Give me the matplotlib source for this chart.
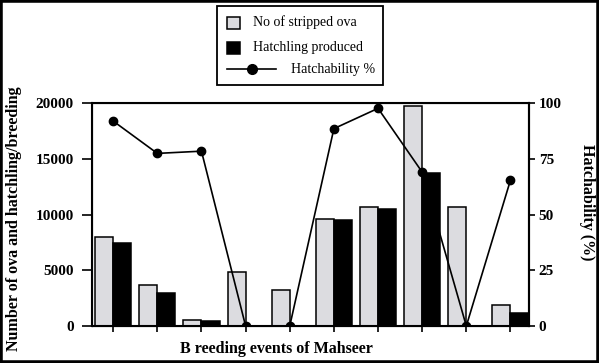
import numpy as np
import matplotlib.pyplot as plt
from matplotlib.lines import Line2D
from matplotlib.patches import Rectangle

plt.rcParams['font.family'] = ['Liberation Serif', 'DejaVu Serif']

events = np.arange(10)
ova = [8000, 3700, 550, 4800, 3200, 9600, 10700, 19760, 10700, 1850]
hatchlings = [7400, 2950, 450, 0, 0, 9500, 10500, 13700, 0, 1150]
hatchability = [91.9, 77.4, 78.4, 0, 0, 88.5, 97.6, 69.0, 0, 65.4]
legend_labels = ['No of stripped ova', 'Hatchling produced', 'Hatchability %']

W, H = 599, 363
fig = plt.figure(figsize=(W / 100, H / 100), dpi=100)
ax = fig.add_axes([92 / W, 37 / H, 437 / W, 223 / H])

grey = '#dcdce0'
w = 0.41
ax.bar(events - w / 2, ova, w, color=grey, edgecolor='black', linewidth=1.1)
ax.bar(events + w / 2, hatchlings, w, color='black', edgecolor='black', linewidth=1.1)
ax.set_ylim(0, 20000)
ax.set_xlim(-0.48, 9.42)
ax.set_xticks(events)
ax.set_xticklabels([])
ax.set_yticks([0, 5000, 10000, 15000, 20000])
ax.tick_params(axis='y', direction='out', length=7, width=1.2, labelsize=11, pad=6)
ax.tick_params(axis='x', direction='out', length=4.5, width=1.2)
for lbl in ax.get_yticklabels():
    lbl.set_fontweight('bold')
for s in ax.spines.values():
    s.set_linewidth(1.5)
ax.set_ylabel('Number of ova and hatchling/breeding', fontsize=11.5, fontweight='bold')
ax.yaxis.set_label_coords((6 - 92) / 437, 0.48)
ax.yaxis.label.set_va('top')
ax.set_xlabel('B reeding events of Mahseer', fontsize=11.5, fontweight='bold')
ax.xaxis.set_label_coords(0.422, -0.103)
ax.xaxis.label.set_va('center')

ax2 = ax.twinx()
ax2.plot(events, hatchability, color='black', lw=1.2, marker='o', ms=6)
ax2.set_ylim(0, 100)
ax2.set_yticks([0, 25, 50, 75, 100])
ax2.tick_params(axis='y', direction='out', length=4, width=1.2, labelsize=11, pad=3)
for lbl in ax2.get_yticklabels():
    lbl.set_fontweight('bold')
ax2.spines['right'].set_linewidth(1.5)
ax2.set_ylabel('Hatchability (%)', fontsize=11.5, fontweight='bold', rotation=270)
ax2.yaxis.set_label_coords((587 - 92) / 437, 0.556)
ax2.yaxis.label.set_va('center')

# legend box drawn by hand, in figure pixels
def px(x, y):
    return x / W, 1 - y / H

fig.patches.append(Rectangle(px(217, 85), 166 / W, 79 / H, transform=fig.transFigure,
                             fill=False, edgecolor='black', linewidth=1.3))
fig.patches.append(Rectangle(px(227, 29), 13 / W, 12 / H, transform=fig.transFigure,
                             facecolor=grey, edgecolor='black', linewidth=1.1))
fig.patches.append(Rectangle(px(227, 54), 13 / W, 12 / H, transform=fig.transFigure,
                             facecolor='black', edgecolor='black', linewidth=1.1))
fig.lines.append(Line2D([227 / W, 276 / W], [1 - 69 / H, 1 - 69 / H], transform=fig.transFigure,
                        color='black', lw=1.2))
fig.lines.append(Line2D([252 / W], [1 - 69 / H], transform=fig.transFigure,
                        color='black', marker='o', ms=7))
fig.text(*px(253, 22), legend_labels[0], fontsize=10, va='center')
fig.text(*px(253, 47), legend_labels[1], fontsize=10, va='center')
fig.text(*px(291, 69), legend_labels[2], fontsize=10, va='center')

fig.patches.append(Rectangle((0, 0), 1, 1, transform=fig.transFigure, fill=False,
                             edgecolor='black', linewidth=4))

fig.savefig('out.png', dpi=100)
